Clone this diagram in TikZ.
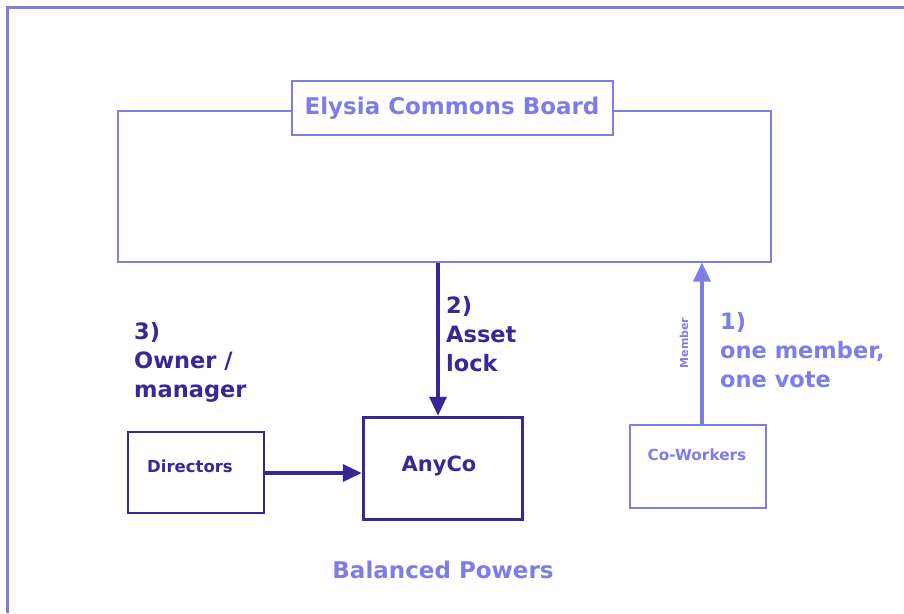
\documentclass[tikz,border=0pt]{standalone}
\usepackage{fontspec}
\setmainfont{DejaVu Sans}
\usetikzlibrary{arrows.meta}
\definecolor{lav}{RGB}{125,125,230}
\definecolor{navy}{RGB}{55,40,150}
\begin{document}
\begin{tikzpicture}[x=1pt,y=-1pt,
  lavbox/.style={draw=lav, line width=2pt, inner sep=0pt},
  navybox/.style={draw=navy, inner sep=0pt},
  bigtxt/.style={font=\fontsize{22.5}{29}\selectfont\bfseries, align=left, inner sep=0pt},
  smalltxt/.style={font=\fontsize{16.5}{20}\selectfont\bfseries, inner sep=0pt},
  conn/.style={line width=3.5pt, -{Triangle[length=19pt,width=17pt]}}
]
\useasboundingbox (0,0) rectangle (904,613);

% outer frame (open to the right and bottom)
\draw[lav, line width=3pt] (7,613) -- (7,7) -- (904,7);

% board with its title tab
\node[lavbox, minimum width=653pt, minimum height=151pt] (board) at (444.5,186) {};
\node[lavbox, fill=white, minimum width=321pt, minimum height=54pt,
      text=lav, font=\fontsize{23}{28}\selectfont\bfseries] (title) at (452,108) {Elysia Commons Board};

% company and its directors
\node[navybox, line width=3.5pt, minimum width=159pt, minimum height=102pt] (anyco) at (443,468.5) {};
\node[text=navy, font=\fontsize{21}{25}\selectfont\bfseries, inner sep=0pt] (anycotxt) at (439,466) {AnyCo};
\node[navybox, line width=2pt, minimum width=136pt, minimum height=81pt] (dirs) at (196,472.5) {};
\node[smalltxt, text=navy] (dirstxt) at (190,466) {Directors};

% co-workers
\node[lavbox, minimum width=136pt, minimum height=83pt] (cow) at (698,466.5) {};
\node[smalltxt, text=lav, font=\fontsize{15.3}{18}\selectfont\bfseries] (cowtxt) at (697,455) {Co-Workers};

% connectors
\draw[conn, navy] ([xshift=-5pt]anyco.north |- board.south) -- ([xshift=-5pt]anyco.north);
\draw[conn, navy] (dirs.east |- 0,473) -- (anyco.west |- 0,473);
\draw[conn, lav] ([xshift=4pt]cow.north) -- ([xshift=4pt]cow.north |- board.south);

% labels
\node[text=lav, font=\fontsize{11}{13}\selectfont\bfseries, rotate=90, inner sep=0pt] (member) at (684,343) {Member};
\node[bigtxt, text=lav, anchor=west] (vote) at (720,350) {1)\\one member,\\one vote};
\node[bigtxt, text=navy, anchor=west] (lock) at (446,334) {2)\\Asset\\lock};
\node[bigtxt, text=navy, anchor=west] (owner) at (134,362) {3)\\Owner /\\manager};
\node[text=lav, font=\fontsize{23}{27}\selectfont\bfseries, inner sep=0pt] (bal) at (443,570) {Balanced Powers};
\end{tikzpicture}
\end{document}
